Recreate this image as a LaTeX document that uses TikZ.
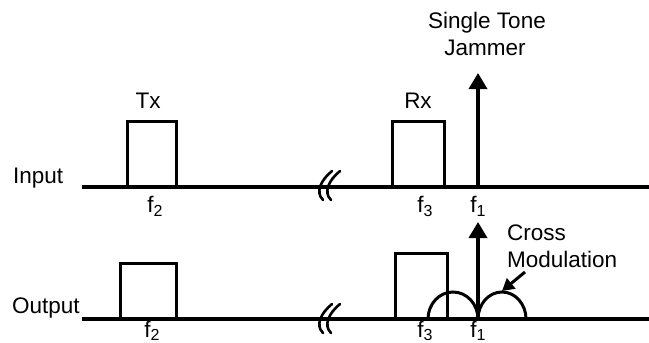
\documentclass[tikz,border=0pt]{standalone}
\usepackage{fontspec}
\setmainfont{Liberation Sans}
\usetikzlibrary{arrows.meta}
% frequency label with a lowered index (optional drop, default 4pt)
\newcommand{\fsub}[2][4pt]{f\raisebox{-#1}{\fontsize{16}{16}\selectfont #2}}
\begin{document}
\begin{tikzpicture}[x=1pt,y=-1pt,
  axis/.style={line width=3.2pt},
  band/.style={line width=3pt},
  bandbox/.style={draw,line width=3pt,inner sep=0pt,outer sep=0pt,anchor=south west},
  tone/.style={line width=3.5pt,-{Triangle[width=18pt,length=16pt]}},
  pointer/.style={line width=3pt,-{Triangle[width=13pt,length=12pt]}},
  brk/.style={line width=2.6pt,line cap=round},
  lbl/.style={font=\fontsize{22.5}{27}\selectfont,inner sep=0pt,anchor=base},
  lblw/.style={lbl,anchor=base west},
]
\useasboundingbox (0,0) rectangle (649,343);

% ---------- input spectrum ----------
\coordinate (inL) at (82,187);
\coordinate (inR) at (649,187);
\draw[axis] (inL) -- (inR);
\node[lblw] (inlbl) at (13,183) {Input};

\node[bandbox,minimum width=49pt,minimum height=66pt] (txin) at (127,187) {};
\node[lbl] (txl) at (148,108) {Tx};
\node[bandbox,minimum width=52pt,minimum height=66pt] (rxin) at (392,187) {};
\node[lbl] (rxl) at (418,108) {Rx};

\coordinate (jinB) at (478,187);
\coordinate (jinT) at (478,73);
\draw[tone] (jinB) -- (jinT);
\node[lbl] (jam1) at (487,28) {Single Tone};
\node[lbl] (jam2) at (485,55) {Jammer};

\node[lbl] (f2in) at (155,212) {\fsub{2}};
\node[lbl] (f3in) at (425,212) {\fsub{3}};
\node[lbl] (f1in) at (478,212) {\fsub{1}};

% axis break marks
\foreach \dx in {0,8} {
  \draw[brk] (332+\dx,171) .. controls (321+\dx,180) and (315+\dx,192) .. (323+\dx,200);
}

% ---------- output spectrum ----------
\coordinate (outL) at (82,319);
\coordinate (outR) at (649,319);
\draw[axis] (outL) -- (outR);
\node[lblw] (outlbl) at (12,313) {Output};

\node[bandbox,minimum width=56pt,minimum height=56pt] (txout) at (120,319) {};
\node[bandbox,minimum width=52pt,minimum height=66pt] (rxout) at (395,319) {};

% cross-modulation lobes around the jammer
\draw[band] (428,319) arc[start angle=180,end angle=0,x radius=25pt,y radius=27pt];
\draw[band] (478,319) arc[start angle=180,end angle=0,x radius=24pt,y radius=27pt];

\coordinate (joutB) at (478,319);
\coordinate (joutT) at (478,222);
\draw[tone] (joutB) -- (joutT);

\node[lblw] (cm1) at (507,240) {Cross};
\node[lblw] (cm2) at (507,267) {Modulation};
\coordinate (cmtail) at (525,272);
\coordinate (cmtip) at (502,291);
\draw[pointer] (cmtail) -- (cmtip);

\node[lbl] (f2out) at (152,337.5) {\fsub[2.5pt]{2}};
\node[lbl] (f3out) at (425,337.5) {\fsub[2.5pt]{3}};
\node[lbl] (f1out) at (478,337.5) {\fsub[2.5pt]{1}};

\foreach \dx in {0,8} {
  \draw[brk] (332+\dx,304) .. controls (321+\dx,313) and (315+\dx,325) .. (323+\dx,333);
}
\end{tikzpicture}
\end{document}
